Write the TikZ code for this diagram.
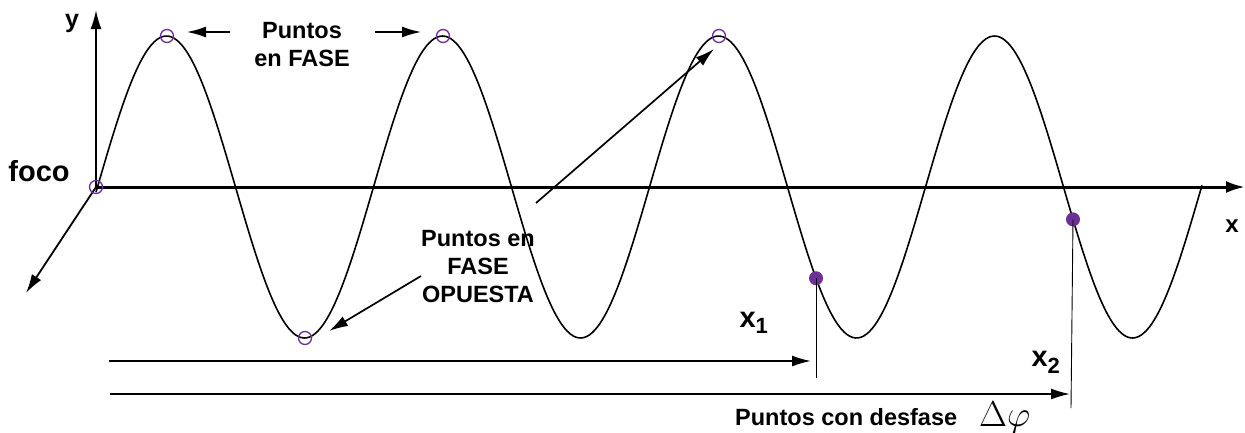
\documentclass[tikz,border=0pt]{standalone}
\usepackage{fontspec}
\usepackage{graphicx}
\setmainfont{Liberation Sans}
\usetikzlibrary{arrows.meta}
\definecolor{ptpurple}{RGB}{108,48,150}
\begin{document}
\begin{tikzpicture}[x=1pt,y=-1pt,
  lbl/.style={font=\bfseries\fontsize{23.5}{28}\selectfont, inner sep=0pt, align=center},
  big/.style={font=\bfseries\fontsize{29}{32}\selectfont, inner sep=0pt},
  arr/.style={line width=1.7pt, -{Latex[length=19pt,width=11pt]}},
  open/.style={circle, draw=ptpurple, line width=1.3pt, minimum size=13pt, inner sep=0pt},
  full/.style={circle, fill=ptpurple, minimum size=14pt, inner sep=0pt},
  wave/.style={line width=1.6pt},
  guide/.style={line width=0.9pt}]
\useasboundingbox (0,0) rectangle (1245,432);
\fill[white] (0,0) rectangle (1245,432);
% axes
\coordinate (O) at (96,187);
\coordinate (xend) at (1245,187);
\coordinate (yend) at (96,10);
\coordinate (zend) at (26,293);
\draw[line width=3pt, -{Latex[length=19pt,width=12pt]}] (O) -- (xend);
\draw[line width=1.8pt, -{Latex[length=19pt,width=11pt]}] (O) -- (yend);
\draw[line width=1.8pt, -{Latex[length=19pt,width=11pt]}] (O) -- (zend);
% wave
\draw[wave] plot[domain=96:1202, samples=400, smooth] (\x, {187-151*sin((\x-97.5)/276*360)});
% open circles
\node[open] (c0) at (96,187) {};
\node[open] (c1) at (167,36) {};
\node[open] (c2) at (443,36) {};
\node[open] (c3) at (719,36) {};
\node[open] (c4) at (305,338) {};
% filled dots
\node[full] (d1) at (816,{187-151*sin((816-97.5)/276*360)}) {};
\node[full] (d2) at (1073,{187-151*sin((1073-97.5)/276*360)}) {};
% guide lines
\coordinate (d1b) at (816,378);
\coordinate (d2b) at (1071,408);
\draw[guide] (d1.center) -- (d1b);
\draw[guide] (d2.center) -- (d2b);
% horizontal arrows
\coordinate (h1s) at (109,361);
\coordinate (h1e) at (811,361);
\coordinate (h2s) at (110,394);
\coordinate (h2e) at (1070,394);
\draw[arr] (h1s) -- (h1e);
\draw[arr] (h2s) -- (h2e);
% labels
\node[lbl, font=\bfseries\fontsize{25}{28}\selectfont] (ylab) at (72,23) {y};
\node[lbl, font=\bfseries\fontsize{24}{28}\selectfont] (xlab) at (1232,226) {x};
\node[big] (foco) at (39,171) {foco};
\node[lbl] (fase) at (302,45) {Puntos\\en FASE};
\coordinate (fl) at (230,32);
\coordinate (flt) at (187,32);
\coordinate (fr) at (375,32);
\coordinate (frt) at (421,32);
\draw[arr] (fl) -- (flt);
\draw[arr] (fr) -- (frt);
\node[lbl] (opu) at (478,267) {Puntos en\\FASE\\OPUESTA};
\coordinate (a1s) at (421,276);
\coordinate (a1e) at (329,331);
\draw[arr] (a1s) -- (a1e);
\coordinate (a2s) at (536,203);
\coordinate (a2e) at (714,49);
\draw[arr] (a2s) -- (a2e);
\node[big, anchor=center] (x1) at (754,323) {x\textsubscript{\fontsize{22}{24}\selectfont 1}};
\node[big, anchor=center] (x2) at (1046,362) {x\textsubscript{\fontsize{22}{24}\selectfont 2}};
\node[lbl, anchor=base west] (desf) at (735,425) {Puntos con desfase\hspace{22pt}\raisebox{-1pt}{\scalebox{1.45}{$\Delta\varphi$}}};
\end{tikzpicture}
\end{document}
